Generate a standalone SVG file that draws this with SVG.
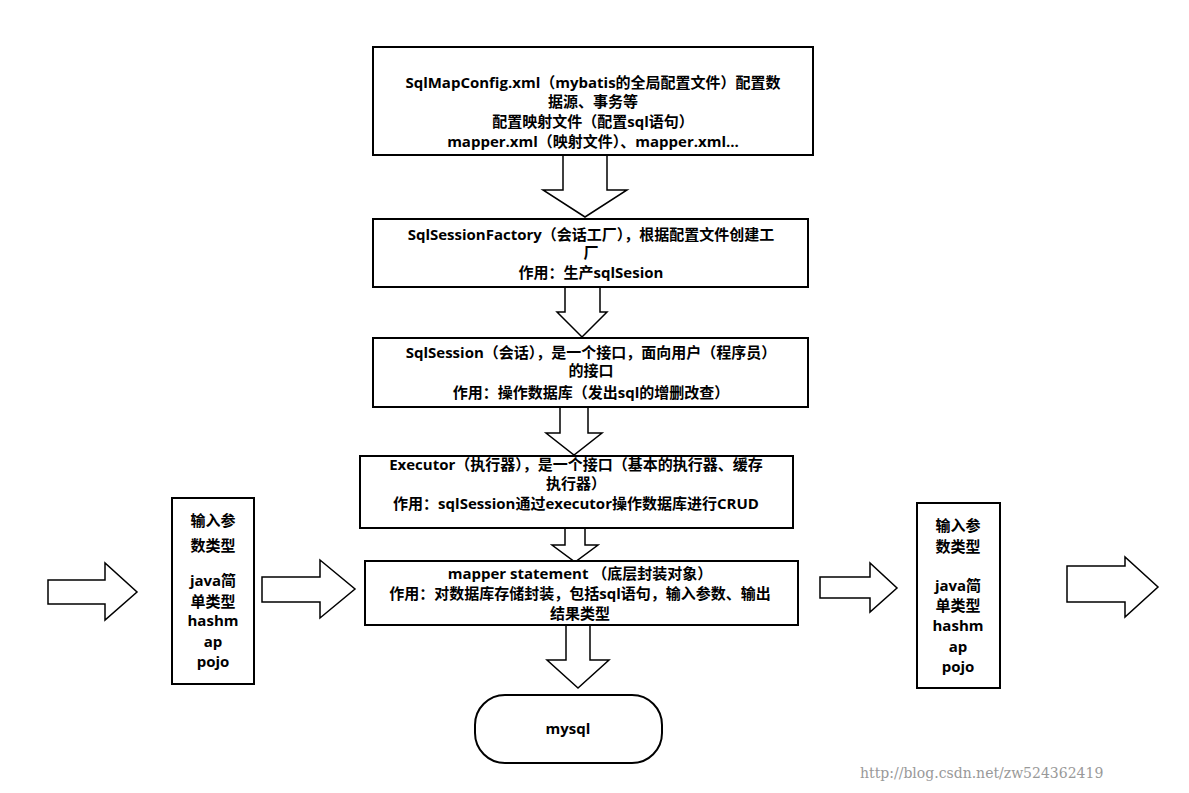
<svg xmlns="http://www.w3.org/2000/svg" width="1189" height="793" viewBox="0 0 1189 793">
<style>
.b{fill:#fff;stroke:#000;stroke-width:2}
.a{fill:#fff;stroke:#000;stroke-width:1.5}
text{font-family:"Open Sans","Noto Sans CJK SC",sans-serif;font-weight:bold;font-size:15px;fill:#000;text-anchor:middle}
.w{font-family:"DejaVu Serif",serif;font-weight:normal;font-size:14px;fill:#999;text-anchor:start}
</style>
<rect width="1189" height="793" fill="#fff"/>
<g id="connectors">
<polygon class="a" points="563,155 607,155 607,190 627,190 585,217 543,190 563,190"/>
<polygon class="a" points="565,287 600,287 600,312 607,312 582,337 557,312 565,312"/>
<polygon class="a" points="560,407 588,407 588,433 602,433 574,455 546,433 560,433"/>
<polygon class="a" points="565,528 585,528 585,545 598,545 575,562 552,545 565,545"/>
<polygon class="a" points="566,625 590,625 590,660 609,660 578,688 547,660 566,660"/>
<polygon class="a" points="48,580 105,580 105,563 137,592 105,620 105,604 48,604"/>
<polygon class="a" points="262,577 320,577 320,560 355,589 320,618 320,602 262,602"/>
<polygon class="a" points="820,577 870,577 870,563 897,588 870,612 870,598 820,598"/>
<polygon class="a" points="1067,566 1125,566 1125,557 1158,587 1125,617 1125,602 1067,602"/>
</g>
<g id="config"><rect class="b" x="373" y="47" width="440" height="108"/>
<text x="593" y="88">SqlMapConfig.xml（mybatis的全局配置文件）配置数</text>
<text x="593" y="107">据源、事务等</text>
<text x="593" y="127">配置映射文件（配置sql语句）</text>
<text x="593" y="147">mapper.xml（映射文件）、mapper.xml...</text></g>
<g id="factory"><rect class="b" x="373" y="219" width="435" height="68"/>
<text x="591" y="240">SqlSessionFactory（会话工厂），根据配置文件创建工</text>
<text x="591" y="258">厂</text>
<text x="591" y="278">作用：生产sqlSesion</text></g>
<g id="session"><rect class="b" x="373" y="338" width="435" height="69"/>
<text x="591" y="358">SqlSession（会话），是一个接口，面向用户（程序员）</text>
<text x="591" y="376">的接口</text>
<text x="591" y="398">作用：操作数据库（发出sql的增删改查）</text></g>
<g id="executor"><rect class="b" x="360" y="456" width="433" height="72"/>
<text x="576" y="470">Executor（执行器），是一个接口（基本的执行器、缓存</text>
<text x="576" y="489">执行器）</text>
<text x="576" y="509">作用：sqlSession通过executor操作数据库进行CRUD</text></g>
<g id="statement"><rect class="b" x="365" y="561" width="433" height="64"/>
<text x="580" y="579">mapper statement （底层封装对象）</text>
<text x="580" y="599">作用：对数据库存储封装，包括sql语句，输入参数、输出</text>
<text x="580" y="619">结果类型</text></g>
<g id="mysql"><rect class="b" x="475" y="695" width="187" height="68" rx="30"/>
<text x="568" y="734">mysql</text></g>
<g id="input"><rect class="b" x="172" y="498" width="82" height="186"/>
<text x="213" y="526">输入参</text><text x="213" y="551">数类型</text>
<text x="213" y="586">java简</text><text x="213" y="607">单类型</text>
<text x="213" y="626">hashm</text><text x="213" y="647">ap</text><text x="213" y="667">pojo</text></g>
<g id="output"><rect class="b" x="917" y="503" width="83" height="185"/>
<text x="958" y="531">输入参</text><text x="958" y="552">数类型</text>
<text x="958" y="591">java简</text><text x="958" y="611">单类型</text>
<text x="958" y="631">hashm</text><text x="958" y="652">ap</text><text x="958" y="672">pojo</text></g>
<text class="w" x="860" y="778">http://blog.csdn.net/zw524362419</text>
</svg>
